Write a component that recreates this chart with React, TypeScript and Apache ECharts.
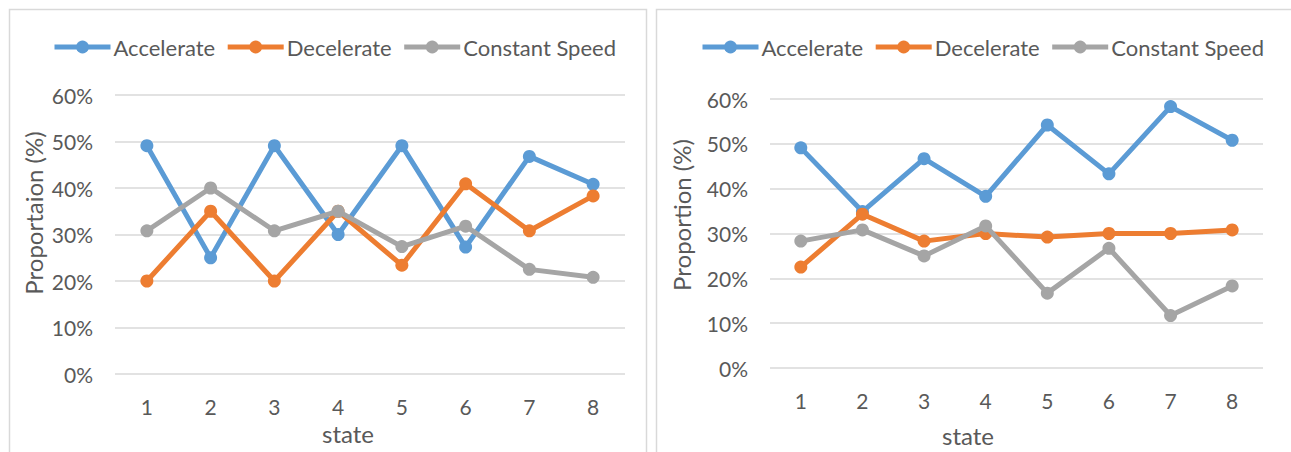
import React, { useEffect, useRef } from "react";
import * as echarts from "echarts";

const categories = ["1", "2", "3", "4", "5", "6", "7", "8"];
const seriesNames = ["Accelerate", "Decelerate", "Constant Speed"];
const colors = ["#5B9BD5", "#ED7D31", "#A5A5A5"];

// Left panel (%)
const leftAccelerate = [49.1, 25.0, 49.1, 30.0, 49.1, 27.3, 46.8, 40.8];
const leftDecelerate = [20.0, 35.0, 20.0, 35.0, 23.4, 40.9, 30.8, 38.3];
const leftConstant = [30.8, 40.0, 30.8, 35.0, 27.4, 31.8, 22.5, 20.8];

// Right panel (%)
const rightAccelerate = [49.1, 34.9, 46.7, 38.3, 54.2, 43.3, 58.3, 50.8];
const rightDecelerate = [22.5, 34.3, 28.3, 30.0, 29.2, 30.0, 30.0, 30.8];
const rightConstant = [28.3, 30.8, 25.0, 31.7, 16.7, 26.7, 11.7, 18.3];

const yTicks = [0, 10, 20, 30, 40, 50, 60];

const FONT = "Lato";
const TEXT = "#595959";

export default function App() {
  const ref = useRef<HTMLDivElement>(null);

  useEffect(() => {
    if (!ref.current) return;
    const chart = echarts.init(ref.current, null, { renderer: "svg" });

    const grids = [
      { left: 115, right: 1291 - 625, top: 95, bottom: 452 - 374 },
      { left: 770, right: 1291 - 1263, top: 99, bottom: 452 - 368 },
    ];

    const mkX = (gi: number, margin: number) => ({
      type: "category",
      gridIndex: gi,
      data: categories,
      boundaryGap: true,
      axisLine: { show: false },
      axisTick: { show: false },
      axisLabel: { color: TEXT, fontFamily: FONT, fontSize: 21, margin },
      splitLine: { show: false },
    });
    const mkY = (gi: number) => ({
      type: "value",
      gridIndex: gi,
      min: yTicks[0],
      max: yTicks[yTicks.length - 1],
      interval: 10,
      axisLine: { show: false },
      axisTick: { show: false },
      axisLabel: {
        color: TEXT,
        fontFamily: FONT,
        fontSize: 21,
        margin: 22,
        formatter: (v: number) => v + "%",
      },
      splitLine: { lineStyle: { color: "#D9D9D9", width: 1.5 } },
    });

    const mkSeries = (name: string, data: number[], gi: number, ci: number) => ({
      name,
      type: "line",
      xAxisIndex: gi,
      yAxisIndex: gi,
      data,
      symbol: "circle",
      symbolSize: 13,
      lineStyle: { width: 5, color: colors[ci] },
      itemStyle: { color: colors[ci] },
      z: 2 + ci,
    });

    const mkLegend = (left: number) => ({
      left,
      top: 36,
      padding: 0,
      itemWidth: 56,
      itemHeight: 16,
      itemGap: 10,
      data: seriesNames,
      lineStyle: { width: 5 },
      textStyle: { color: TEXT, fontFamily: FONT, fontSize: 22, padding: [0, 0, 0, -2] },
    });

    const axisTitle = (text: string, x: number, y: number, rotate: boolean) => ({
      type: "text",
      x,
      y,
      rotation: rotate ? Math.PI / 2 : 0,
      style: {
        text,
        fill: TEXT,
        font: `24px ${FONT}`,
        align: "center",
        verticalAlign: "middle",
      },
    });

    chart.setOption({
      animation: false,
      backgroundColor: "#fff",
      grid: grids,
      legend: [mkLegend(52), mkLegend(700)],
      xAxis: [mkX(0, 22), mkX(1, 22)],
      yAxis: [mkY(0), mkY(1)],
      series: [
        mkSeries(seriesNames[0], leftAccelerate, 0, 0),
        mkSeries(seriesNames[1], leftDecelerate, 0, 1),
        mkSeries(seriesNames[2], leftConstant, 0, 2),
        mkSeries(seriesNames[0], rightAccelerate, 1, 0),
        mkSeries(seriesNames[1], rightDecelerate, 1, 1),
        mkSeries(seriesNames[2], rightConstant, 1, 2),
      ],
      graphic: [
        {
          type: "rect",
          shape: { x: 9.5, y: 9.5, width: 637, height: 480 },
          style: { fill: "none", stroke: "#D9D9D9", lineWidth: 1.5 },
          silent: true,
        },
        {
          type: "rect",
          shape: { x: 656.5, y: 9.5, width: 700, height: 480 },
          style: { fill: "none", stroke: "#D9D9D9", lineWidth: 1.5 },
          silent: true,
        },
        axisTitle("Proportaion (%)", 33, 213, true),
        axisTitle("Proportion (%)", 681, 215, true),
        axisTitle("state", 348, 433, false),
        axisTitle("state", 968, 435, false),
      ],
    });

    return () => chart.dispose();
  }, []);

  return (
    <div
      ref={ref}
      style={{ position: "absolute", left: 0, top: 0, width: 1291, height: 452 }}
    />
  );
}
